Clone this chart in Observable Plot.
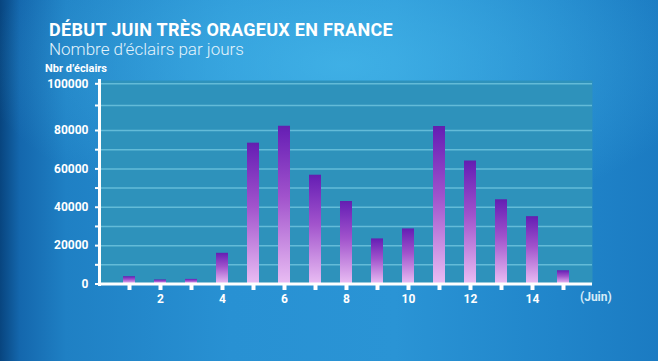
<!DOCTYPE html>
<html>
<head>
<meta charset="utf-8">
<script src="https://cdn.jsdelivr.net/npm/d3@7"></script>
<script src="https://cdn.jsdelivr.net/npm/@observablehq/plot@0.6"></script>
<style>
  html, body { margin: 0; padding: 0; }
  body {
    width: 658px; height: 361px; overflow: hidden; position: relative;
    font-family: Roboto, "Open Sans", sans-serif;
    background:
      radial-gradient(ellipse 55% 45% at 52% 18%, rgba(70,185,235,0.75) 0%, rgba(70,185,235,0) 100%),
      linear-gradient(to right, #08457f 0%, #1467ad 3%, #1f80c4 10%, #2891d3 35%, #2a94d5 60%, #2085ca 85%, #1b7bc2 100%);
  }
  #chart { position: absolute; left: 0; top: 0; }
  .title { position: absolute; left: 49px; top: 21px; font-size: 18px; line-height: 18px; letter-spacing: 0.3px; font-weight: 700; color: #ffffff; white-space: nowrap; }
  .subtitle { position: absolute; left: 49px; top: 41px; font-size: 17px; line-height: 17px; font-weight: 300; color: #e2f2fb; white-space: nowrap; }
  .ylabel { position: absolute; left: 45px; top: 63px; font-size: 11px; line-height: 11px; font-weight: 700; color: #ffffff; white-space: nowrap; }
  .xunit { position: absolute; left: 580px; top: 291px; font-size: 12px; line-height: 12px; font-weight: 700; color: #d6ecf8; white-space: nowrap; }
</style>
</head>
<body>
<div id="chart"></div>
<div class="title">DÉBUT JUIN TRÈS ORAGEUX EN FRANCE</div>
<div class="subtitle">Nombre d’éclairs par jours</div>
<div class="ylabel">Nbr d’éclairs</div>
<div class="xunit">(Juin)</div>
<script>
const days = [1, 2, 3, 4, 5, 6, 7, 8, 9, 10, 11, 12, 13, 14, 15];
const counts = [3800, 2100, 2400, 16000, 73400, 81700, 56700, 43000, 23500, 28700, 81600, 64100, 43900, 35100, 6900];
const yTicks = [0, 10000, 20000, 30000, 40000, 50000, 60000, 70000, 80000, 90000, 100000];
const yLabelled = [0, 20000, 40000, 60000, 80000, 100000];
const xLabelled = [2, 4, 6, 8, 10, 12, 14];

const data = days.map((d, i) => ({day: d, count: counts[i]}));

// The original axis is stretched above 80000 (gridlines 80k→90k→100k are spaced wider)
const stretch = d3.scaleLinear().domain([0, 80000, 90000, 100000]).range([0, 80000, 93030, 104340]);

const svg = Plot.plot({
  width: 658,
  height: 361,
  marginLeft: 99,
  marginRight: 66,
  marginTop: 80,
  marginBottom: 77,
  style: {background: "transparent", color: "white", fontFamily: "Roboto, sans-serif", overflow: "visible"},
  x: {type: "band", domain: days, paddingInner: 0.62, paddingOuter: 0.535},
  y: {transform: stretch, domain: [0, stretch(100000)], range: [283.5, 83.3]},
  marks: [
    Plot.frame({fill: "#2e92bb", stroke: "none"}),
    Plot.ruleY(yTicks.filter(d => d > 0), {stroke: "#63bbd8", strokeWidth: 1.5}),
    Plot.barY(data, {x: "day", y: "count", fill: "url(#barGrad)"}),
    Plot.frame({anchor: "left", stroke: "white", strokeWidth: 3}),
    Plot.ruleY([0], {stroke: "white", strokeWidth: 3}),
    Plot.axisY(yTicks, {
      tickSize: 4, tickPadding: 7, strokeWidth: 2, color: "white",
      fontSize: 12, fontWeight: "bold", label: null,
      tickFormat: d => yLabelled.includes(d) ? String(d) : ""
    }),
    Plot.axisX(days, {
      tickSize: 6, tickPadding: 4, strokeWidth: 4, color: "white",
      fontSize: 12, fontWeight: "bold", label: null,
      tickFormat: d => xLabelled.includes(d) ? String(d) : ""
    })
  ]
});

d3.select(svg).insert("defs", ":first-child").html(`
  <linearGradient id="barGrad" x1="0" y1="0" x2="0" y2="1">
    <stop offset="0" stop-color="#6220ae"/>
    <stop offset="0.04" stop-color="#6a22b6"/>
    <stop offset="0.45" stop-color="#a153cc"/>
    <stop offset="1" stop-color="#e9bdf3"/>
  </linearGradient>`);

document.getElementById("chart").appendChild(svg);
</script>
</body>
</html>
